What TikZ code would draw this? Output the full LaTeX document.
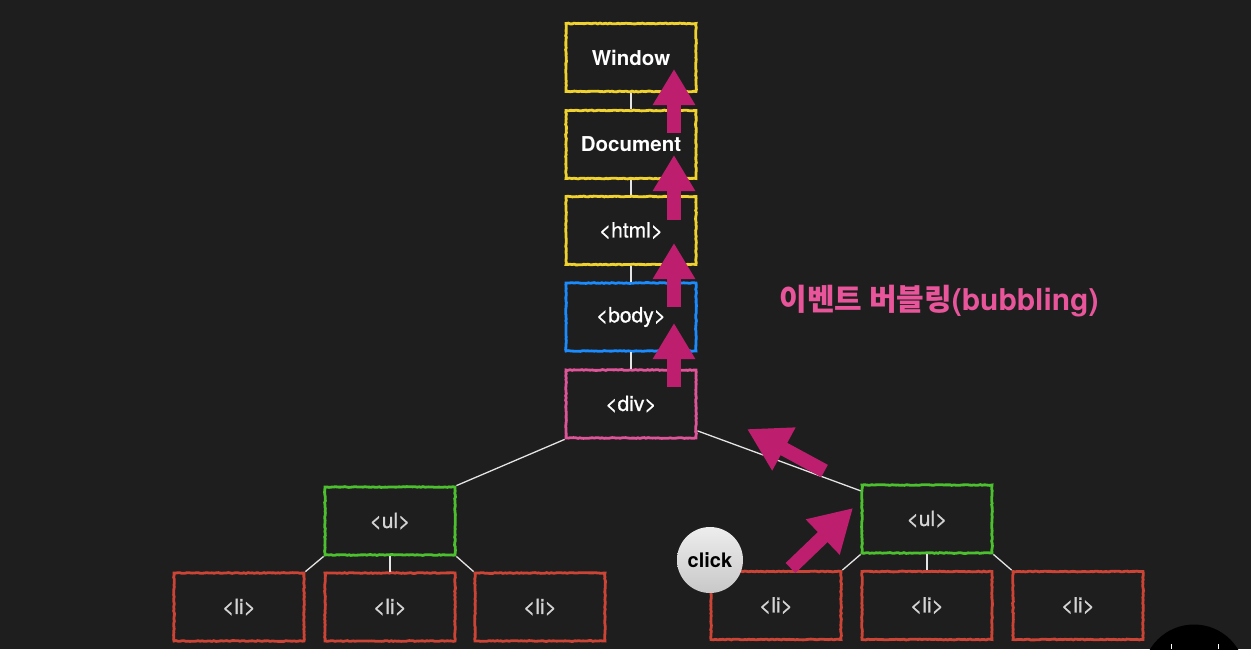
\documentclass[tikz,border=0pt]{standalone}
\usepackage{fontspec}
\setmainfont{TeX Gyre Heros}
\newfontfamily\medfont[FakeBold=1]{TeX Gyre Heros}
\newfontfamily\krfont{Noto Sans CJK KR}
\usetikzlibrary{arrows.meta,decorations.pathmorphing}
\definecolor{bgc}{HTML}{1E1E1E}
\definecolor{yellowc}{HTML}{F0D22E}
\definecolor{bluec}{HTML}{1A8CFF}
\definecolor{pinkc}{HTML}{E0559A}
\definecolor{greenc}{HTML}{4CC02E}
\definecolor{redc}{HTML}{CC4436}
\definecolor{arrowc}{HTML}{BE1E6E}
\definecolor{titlec}{HTML}{E8559A}
\definecolor{linec}{HTML}{E4E4E4}
\definecolor{litext}{HTML}{D4D4D4}
\definecolor{clicktop}{HTML}{EDEDED}
\definecolor{clickbot}{HTML}{C8C8C8}
\pgfmathsetseed{7}
\begin{document}
\begin{tikzpicture}[x=1pt,y=-1pt,
  box/.style={draw, line width=2.8pt, minimum width=130pt, minimum height=68pt,
    inner sep=0pt, text=white, font=\medfont\fontsize{21}{21}\selectfont,
    decorate, decoration={random steps, segment length=2pt, amplitude=0.4pt}},
  boldbox/.style={box, font=\fontsize{20.5}{20.5}\selectfont\bfseries},
  graybox/.style={box, text=litext},
  link/.style={draw=linec, line width=1.3pt},
  bub/.style={draw=arrowc, line width=14pt, line cap=butt,
    -{Triangle[length=36pt,width=40pt]}},
  bubd/.style={draw=arrowc, line width=14pt, line cap=butt,
    -{Triangle[length=42pt,width=46pt]}}]
\fill[bgc] (0,0) rectangle (1251,649);
\useasboundingbox (0,0) rectangle (1251,649);

% top chain
\node[boldbox, draw=yellowc] (win) at (631,57.5) {Window};
\node[boldbox, draw=yellowc] (doc) at (631,144.5) {Document};
\node[box, draw=yellowc] (html) at (631,230.5) {<html>};
\node[box, draw=bluec] (body) at (631,317) {<body>};
\node[box, draw=pinkc] (div) at (631,404) {<div>};

% ul level
\node[graybox, draw=greenc] (ulL) at (390,521) {<ul>};
\node[graybox, draw=greenc] (ulR) at (927,519) {<ul>};

% li level
\node[graybox, draw=redc] (liL1) at (239,607) {<li>};
\node[graybox, draw=redc] (liL2) at (390,607) {<li>};
\node[graybox, draw=redc] (liL3) at (540,607) {<li>};
\node[graybox, draw=redc] (liR1) at (776,605.5) {<li>};
\node[graybox, draw=redc] (liR2) at (927,605.5) {<li>};
\node[graybox, draw=redc] (liR3) at (1078,605.5) {<li>};

% connectors
\draw[link] (win.south) -- (doc.north);
\draw[link] (doc.south) -- (html.north);
\draw[link] (html.south) -- (body.north);
\draw[link] (body.south) -- (div.north);
\draw[link] (div.south west) -- (ulL.north east);
\draw[link] (div.-22) -- (ulR.157);
\draw[link] (ulL.south west) -- (liL1.north east);
\draw[link] (ulL.south) -- (liL2.north);
\draw[link] (ulL.south east) -- (liL3.north west);
\draw[link] (ulR.south west) -- (liR1.north east);
\draw[link] (ulR.south) -- (liR2.north);
\draw[link] (ulR.south east) -- (liR3.north west);

% bubbling arrows
\coordinate (a1s) at (674,133); \coordinate (a1e) at (674,69);
\coordinate (a2s) at (674,220); \coordinate (a2e) at (674,155);
\coordinate (a3s) at (674,307); \coordinate (a3e) at (674,243);
\coordinate (a4s) at (674,387); \coordinate (a4e) at (674,323);
\coordinate (a5s) at (824.5,471); \coordinate (a5e) at (747,429);
\coordinate (a6s) at (790.5,568); \coordinate (a6e) at (853,508);
\draw[bub] (a1s) -- (a1e);
\draw[bub] (a2s) -- (a2e);
\draw[bub] (a3s) -- (a3e);
\draw[bub] (a4s) -- (a4e);
\draw[bubd] (a5s) -- (a5e);
\draw[bubd] (a6s) -- (a6e);

% title
\node[text=titlec, font=\fontsize{30}{30}\selectfont\bfseries, inner sep=0pt] (title) at (939,301) {{\krfont\bfseries 이벤트 버블링}(bubbling)};

% click bubble
\node[circle, minimum size=66pt, inner sep=0pt, top color=clicktop, bottom color=clickbot,
  font=\fontsize{20}{20}\selectfont\bfseries, text=black] (click) at (710,560) {click};

% corner overlay
\fill[black] (1194,676) circle (51.5);
\draw[white, line width=1pt] (1171,644) -- (1171,649);
\draw[white, line width=1pt] (1218,644) -- (1218,649);
\end{tikzpicture}
\end{document}
